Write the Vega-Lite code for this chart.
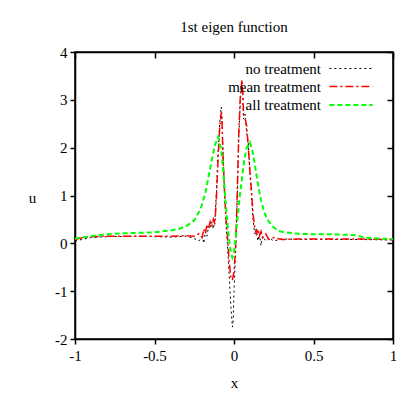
{
  "$schema": "https://vega.github.io/schema/vega-lite/v6.json",
  "autosize": "none",
  "width": 318,
  "height": 287,
  "padding": {"left": 75, "top": 52, "right": 22, "bottom": 56},
  "background": "white",
  "title": {"text": "1st eigen function", "font": "Liberation Serif", "fontSize": 15, "fontWeight": "normal", "color": "black", "anchor": "middle", "baseline": "alphabetic", "offset": -2},
  "datasets": {
    "curves": [
      {"s": "no treatment", "x": -1, "u": 0.05}, {"s": "no treatment", "x": -0.9, "u": 0.12}, {"s": "no treatment", "x": -0.8, "u": 0.14}, {"s": "no treatment", "x": -0.6, "u": 0.15}, {"s": "no treatment", "x": -0.4, "u": 0.13}, {"s": "no treatment", "x": -0.3, "u": 0.15}, {"s": "no treatment", "x": -0.25, "u": 0.1}, {"s": "no treatment", "x": -0.22, "u": 0.05}, {"s": "no treatment", "x": -0.2, "u": 0.15}, {"s": "no treatment", "x": -0.19, "u": 0.0}, {"s": "no treatment", "x": -0.18, "u": 0.25}, {"s": "no treatment", "x": -0.17, "u": 0.15}, {"s": "no treatment", "x": -0.16, "u": 0.35}, {"s": "no treatment", "x": -0.15, "u": 0.3}, {"s": "no treatment", "x": -0.14, "u": 0.45}, {"s": "no treatment", "x": -0.13, "u": 0.3}, {"s": "no treatment", "x": -0.12, "u": 0.5}, {"s": "no treatment", "x": -0.11, "u": 1.1}, {"s": "no treatment", "x": -0.1, "u": 1.9}, {"s": "no treatment", "x": -0.09, "u": 2.5}, {"s": "no treatment", "x": -0.08, "u": 2.85}, {"s": "no treatment", "x": -0.075, "u": 2.6}, {"s": "no treatment", "x": -0.07, "u": 2.0}, {"s": "no treatment", "x": -0.06, "u": 1.1}, {"s": "no treatment", "x": -0.05, "u": 0.4}, {"s": "no treatment", "x": -0.04, "u": -0.1}, {"s": "no treatment", "x": -0.03, "u": -0.7}, {"s": "no treatment", "x": -0.02, "u": -1.3}, {"s": "no treatment", "x": -0.01, "u": -1.75}, {"s": "no treatment", "x": -0.005, "u": -1.6}, {"s": "no treatment", "x": 0.0, "u": -1.0}, {"s": "no treatment", "x": 0.01, "u": -0.2}, {"s": "no treatment", "x": 0.02, "u": 0.9}, {"s": "no treatment", "x": 0.03, "u": 2.2}, {"s": "no treatment", "x": 0.04, "u": 3.0}, {"s": "no treatment", "x": 0.05, "u": 3.3}, {"s": "no treatment", "x": 0.055, "u": 3.1}, {"s": "no treatment", "x": 0.06, "u": 2.6}, {"s": "no treatment", "x": 0.07, "u": 2.7}, {"s": "no treatment", "x": 0.08, "u": 2.3}, {"s": "no treatment", "x": 0.09, "u": 2.1}, {"s": "no treatment", "x": 0.1, "u": 1.5}, {"s": "no treatment", "x": 0.11, "u": 1.0}, {"s": "no treatment", "x": 0.12, "u": 0.5}, {"s": "no treatment", "x": 0.13, "u": 0.2}, {"s": "no treatment", "x": 0.14, "u": 0.3}, {"s": "no treatment", "x": 0.15, "u": 0.05}, {"s": "no treatment", "x": 0.16, "u": 0.2}, {"s": "no treatment", "x": 0.17, "u": -0.05}, {"s": "no treatment", "x": 0.18, "u": 0.15}, {"s": "no treatment", "x": 0.2, "u": 0.05}, {"s": "no treatment", "x": 0.22, "u": 0.12}, {"s": "no treatment", "x": 0.25, "u": 0.05}, {"s": "no treatment", "x": 0.3, "u": 0.09}, {"s": "no treatment", "x": 0.5, "u": 0.08}, {"s": "no treatment", "x": 0.8, "u": 0.08}, {"s": "no treatment", "x": 1.0, "u": 0.07},
      {"s": "mean treatment", "x": -1, "u": 0.08}, {"s": "mean treatment", "x": -0.95, "u": 0.12}, {"s": "mean treatment", "x": -0.9, "u": 0.14}, {"s": "mean treatment", "x": -0.8, "u": 0.15}, {"s": "mean treatment", "x": -0.6, "u": 0.15}, {"s": "mean treatment", "x": -0.4, "u": 0.15}, {"s": "mean treatment", "x": -0.3, "u": 0.16}, {"s": "mean treatment", "x": -0.25, "u": 0.15}, {"s": "mean treatment", "x": -0.22, "u": 0.2}, {"s": "mean treatment", "x": -0.2, "u": 0.12}, {"s": "mean treatment", "x": -0.19, "u": 0.3}, {"s": "mean treatment", "x": -0.18, "u": 0.2}, {"s": "mean treatment", "x": -0.17, "u": 0.4}, {"s": "mean treatment", "x": -0.16, "u": 0.3}, {"s": "mean treatment", "x": -0.15, "u": 0.45}, {"s": "mean treatment", "x": -0.14, "u": 0.35}, {"s": "mean treatment", "x": -0.13, "u": 0.5}, {"s": "mean treatment", "x": -0.12, "u": 0.4}, {"s": "mean treatment", "x": -0.11, "u": 1.0}, {"s": "mean treatment", "x": -0.1, "u": 1.8}, {"s": "mean treatment", "x": -0.09, "u": 2.4}, {"s": "mean treatment", "x": -0.08, "u": 2.74}, {"s": "mean treatment", "x": -0.075, "u": 2.5}, {"s": "mean treatment", "x": -0.07, "u": 1.9}, {"s": "mean treatment", "x": -0.06, "u": 1.1}, {"s": "mean treatment", "x": -0.05, "u": 0.5}, {"s": "mean treatment", "x": -0.04, "u": 0.1}, {"s": "mean treatment", "x": -0.03, "u": -0.4}, {"s": "mean treatment", "x": -0.02, "u": -0.7}, {"s": "mean treatment", "x": -0.01, "u": -0.77}, {"s": "mean treatment", "x": 0.0, "u": -0.6}, {"s": "mean treatment", "x": 0.01, "u": -0.1}, {"s": "mean treatment", "x": 0.02, "u": 1.0}, {"s": "mean treatment", "x": 0.03, "u": 2.3}, {"s": "mean treatment", "x": 0.04, "u": 3.1}, {"s": "mean treatment", "x": 0.05, "u": 3.42}, {"s": "mean treatment", "x": 0.055, "u": 3.2}, {"s": "mean treatment", "x": 0.06, "u": 2.7}, {"s": "mean treatment", "x": 0.07, "u": 2.6}, {"s": "mean treatment", "x": 0.08, "u": 2.45}, {"s": "mean treatment", "x": 0.09, "u": 2.0}, {"s": "mean treatment", "x": 0.1, "u": 1.5}, {"s": "mean treatment", "x": 0.11, "u": 1.1}, {"s": "mean treatment", "x": 0.12, "u": 0.6}, {"s": "mean treatment", "x": 0.13, "u": 0.35}, {"s": "mean treatment", "x": 0.14, "u": 0.2}, {"s": "mean treatment", "x": 0.15, "u": 0.3}, {"s": "mean treatment", "x": 0.16, "u": 0.15}, {"s": "mean treatment", "x": 0.17, "u": 0.25}, {"s": "mean treatment", "x": 0.18, "u": 0.12}, {"s": "mean treatment", "x": 0.2, "u": 0.2}, {"s": "mean treatment", "x": 0.22, "u": 0.08}, {"s": "mean treatment", "x": 0.25, "u": 0.12}, {"s": "mean treatment", "x": 0.3, "u": 0.08}, {"s": "mean treatment", "x": 0.4, "u": 0.09}, {"s": "mean treatment", "x": 0.6, "u": 0.09}, {"s": "mean treatment", "x": 0.8, "u": 0.09}, {"s": "mean treatment", "x": 1.0, "u": 0.08},
      {"s": "all treatment", "x": -1, "u": 0.1}, {"s": "all treatment", "x": -0.9, "u": 0.15}, {"s": "all treatment", "x": -0.8, "u": 0.19}, {"s": "all treatment", "x": -0.7, "u": 0.21}, {"s": "all treatment", "x": -0.6, "u": 0.22}, {"s": "all treatment", "x": -0.5, "u": 0.23}, {"s": "all treatment", "x": -0.4, "u": 0.27}, {"s": "all treatment", "x": -0.35, "u": 0.3}, {"s": "all treatment", "x": -0.3, "u": 0.36}, {"s": "all treatment", "x": -0.25, "u": 0.48}, {"s": "all treatment", "x": -0.21, "u": 0.72}, {"s": "all treatment", "x": -0.18, "u": 1.05}, {"s": "all treatment", "x": -0.16, "u": 1.4}, {"s": "all treatment", "x": -0.14, "u": 1.74}, {"s": "all treatment", "x": -0.12, "u": 2.05}, {"s": "all treatment", "x": -0.1, "u": 2.22}, {"s": "all treatment", "x": -0.08, "u": 1.95}, {"s": "all treatment", "x": -0.065, "u": 1.4}, {"s": "all treatment", "x": -0.05, "u": 0.75}, {"s": "all treatment", "x": -0.035, "u": 0.2}, {"s": "all treatment", "x": -0.02, "u": -0.2}, {"s": "all treatment", "x": -0.01, "u": -0.3}, {"s": "all treatment", "x": 0.0, "u": -0.2}, {"s": "all treatment", "x": 0.01, "u": 0.1}, {"s": "all treatment", "x": 0.02, "u": 0.45}, {"s": "all treatment", "x": 0.035, "u": 0.95}, {"s": "all treatment", "x": 0.05, "u": 1.35}, {"s": "all treatment", "x": 0.065, "u": 1.75}, {"s": "all treatment", "x": 0.08, "u": 2.0}, {"s": "all treatment", "x": 0.1, "u": 2.11}, {"s": "all treatment", "x": 0.115, "u": 1.95}, {"s": "all treatment", "x": 0.13, "u": 1.67}, {"s": "all treatment", "x": 0.15, "u": 1.25}, {"s": "all treatment", "x": 0.17, "u": 0.9}, {"s": "all treatment", "x": 0.19, "u": 0.65}, {"s": "all treatment", "x": 0.21, "u": 0.5}, {"s": "all treatment", "x": 0.24, "u": 0.36}, {"s": "all treatment", "x": 0.27, "u": 0.28}, {"s": "all treatment", "x": 0.3, "u": 0.24}, {"s": "all treatment", "x": 0.4, "u": 0.2}, {"s": "all treatment", "x": 0.5, "u": 0.19}, {"s": "all treatment", "x": 0.6, "u": 0.19}, {"s": "all treatment", "x": 0.7, "u": 0.18}, {"s": "all treatment", "x": 0.77, "u": 0.17}, {"s": "all treatment", "x": 0.82, "u": 0.12}, {"s": "all treatment", "x": 0.9, "u": 0.1}, {"s": "all treatment", "x": 1.0, "u": 0.09}
    ]
  },
  "data": {"name": "curves"},
  "layer": [
    {
      "mark": {"type": "line", "clip": true},
      "encoding": {
        "x": {"field": "x", "type": "quantitative", "scale": {"domain": [-1, 1], "nice": false}, "axis": {"orient": "bottom", "values": [-1, -0.5, 0, 0.5, 1], "labelExpr": "toString(datum.value)", "title": "x", "titlePadding": 12, "tickSize": 5, "labelPadding": 4}},
        "y": {"field": "u", "type": "quantitative", "scale": {"domain": [-2, 4], "nice": false}, "axis": {"orient": "left", "values": [-2, -1, 0, 1, 2, 3, 4], "labelExpr": "toString(datum.value)", "title": "u", "titleAngle": 0, "titleAlign": "center", "titleBaseline": "middle", "titleX": -43, "titleY": 145, "tickSize": 5, "labelPadding": 3}},
        "color": {"field": "s", "type": "nominal", "scale": {"domain": ["no treatment", "mean treatment", "all treatment"], "range": ["#000000", "#ff0000", "#00ff00"]}, "legend": {"title": null}},
        "strokeDash": {"field": "s", "type": "nominal", "scale": {"domain": ["no treatment", "mean treatment", "all treatment"], "range": [[2, 3], [8, 3, 2, 3], [5, 3]]}, "legend": {"title": null}},
        "strokeWidth": {"field": "s", "type": "nominal", "scale": {"domain": ["no treatment", "mean treatment", "all treatment"], "range": [1, 2, 2.5]}, "legend": {"title": null}},
        "order": {"field": "x", "type": "quantitative"}
      }
    },
    {
      "mark": {"type": "point", "opacity": 0},
      "encoding": {
        "x": {"field": "x", "type": "quantitative", "axis": {"orient": "top", "values": [-1, -0.5, 0, 0.5, 1], "labels": false, "title": null, "tickSize": -6}},
        "y": {"field": "u", "type": "quantitative", "axis": {"orient": "right", "values": [-2, -1, 0, 1, 2, 3, 4], "labels": false, "title": null, "tickSize": -6}}
      }
    }
  ],
  "resolve": {"axis": {"x": "independent", "y": "independent"}},
  "config": {
    "view": {"stroke": "black", "strokeWidth": 1.5},
    "font": "Liberation Serif",
    "axis": {"domain": true, "domainColor": "black", "domainWidth": 1.5, "grid": false, "ticks": true, "tickColor": "black", "tickWidth": 1.5, "labelFont": "Liberation Serif", "labelFontSize": 15, "labelColor": "black", "titleFont": "Liberation Serif", "titleFontSize": 15, "titleFontWeight": "normal", "titleColor": "black", "labelFlush": false},
    "legend": {"orient": "none", "legendX": 266, "legendY": 7, "labelFont": "Liberation Serif", "labelFontSize": 15, "labelColor": "black", "symbolType": "M-2.5,0H2.5", "symbolSize": 300, "rowPadding": 0, "labelAlign": "right", "labelOffset": -40, "padding": 0}
  }
}
